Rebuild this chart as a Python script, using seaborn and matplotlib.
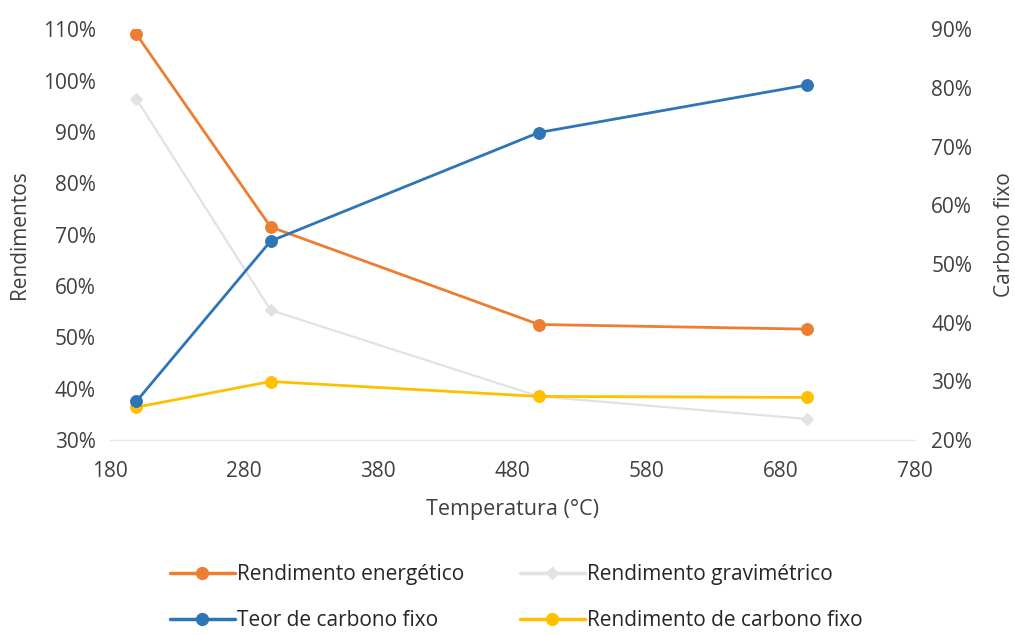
import matplotlib
matplotlib.use("Agg")
import matplotlib.pyplot as plt
from matplotlib.ticker import PercentFormatter, MultipleLocator
from matplotlib.lines import Line2D
import seaborn as sns
import pandas as pd

# Pyrolysis temperatures (°C)
temperatura = [200, 300, 500, 700]

# Yields (%), left axis
rend_energetico = [109.0, 71.5, 52.5, 51.6]
rend_gravimetrico = [96.4, 55.3, 38.5, 34.1]
rend_carbono_fixo = [36.4, 41.4, 38.5, 38.3]

# Fixed carbon content (%), right axis
teor_carbono_fixo = [26.6, 53.9, 72.4, 80.5]

x_ticks = [180, 280, 380, 480, 580, 680, 780]

sns.set_theme(style="white")
plt.rcParams["font.family"] = ["Open Sans", "DejaVu Sans"]

c_orange = "#ED7D31"
c_gray = "#E2E2E2"
c_blue = "#2E75B6"
c_yellow = "#FFC000"

fig = plt.figure(figsize=(10.15, 6.35), dpi=100)
ax = fig.add_axes([0.108, 0.307, 0.793, 0.647])
ax2 = ax.twinx()

df = pd.DataFrame({
    "T": temperatura,
    "energ": rend_energetico,
    "grav": rend_gravimetrico,
    "rcf": rend_carbono_fixo,
    "tcf": teor_carbono_fixo,
})

lw = 2.0
ms = 8.5
sns.lineplot(data=df, x="T", y="grav", ax=ax, color=c_gray, lw=1.6,
             marker="D", markersize=6, markeredgecolor=c_gray, zorder=2)
sns.lineplot(data=df, x="T", y="rcf", ax=ax, color=c_yellow, lw=lw,
             marker="o", markersize=ms, markeredgecolor=c_yellow, zorder=3)
sns.lineplot(data=df, x="T", y="energ", ax=ax, color=c_orange, lw=lw,
             marker="o", markersize=ms, markeredgecolor=c_orange, zorder=4)
sns.lineplot(data=df, x="T", y="tcf", ax=ax2, color=c_blue, lw=lw,
             marker="o", markersize=ms, markeredgecolor=c_blue, zorder=3)

ax.set_xlim(180, 780)
ax.set_xticks(x_ticks)
ax.set_ylim(30, 110)
ax.yaxis.set_major_locator(MultipleLocator(10))
ax.yaxis.set_major_formatter(PercentFormatter(decimals=0))
ax2.set_ylim(20, 90)
ax2.yaxis.set_major_locator(MultipleLocator(10))
ax2.yaxis.set_major_formatter(PercentFormatter(decimals=0))

text_color = "#404040"
fs = 15
ax.set_xlabel("Temperatura (°C)", fontsize=15.5, color=text_color, va="center")
ax.set_ylabel("Rendimentos", fontsize=15, color=text_color, va="center")
ax2.set_ylabel("Carbono fixo", fontsize=15, color=text_color, va="center")
ax.xaxis.set_label_coords(0.5, -0.170)
ax.yaxis.set_label_coords(-0.112, 0.5)
ax2.yaxis.set_label_coords(1.112, 0.5)

for a in (ax, ax2):
    a.tick_params(axis="both", labelsize=fs, labelcolor=text_color, length=0)
    for side in ("top", "left", "right"):
        a.spines[side].set_visible(False)
    a.spines["bottom"].set_color("#E8E8E8")
    a.spines["bottom"].set_linewidth(1.0)
ax.tick_params(axis="x", pad=15)
ax.tick_params(axis="y", pad=10)
ax2.tick_params(axis="y", pad=12)
ax2.spines["bottom"].set_visible(False)
ax.grid(False)
ax2.grid(False)

handles = [
    Line2D([], [], color=c_orange, lw=2.5, marker="o", markersize=ms,
           label="Rendimento energético"),
    Line2D([], [], color=c_blue, lw=2.5, marker="o", markersize=ms,
           label="Teor de carbono fixo"),
    Line2D([], [], color=c_gray, lw=2.5, marker="D", markersize=6,
           label="Rendimento gravimétrico"),
    Line2D([], [], color=c_yellow, lw=2.5, marker="o", markersize=ms,
           label="Rendimento de carbono fixo"),
]
fig.legend(handles=handles, loc="upper left", bbox_to_anchor=(0.1675, 0.112),
           ncol=2, frameon=False, fontsize=15, handlelength=3.1,
           handletextpad=0.1, columnspacing=2.7, labelspacing=1.2,
           borderpad=0, borderaxespad=0, labelcolor="#262626")

fig.savefig("out.png", dpi=100, facecolor="white")
